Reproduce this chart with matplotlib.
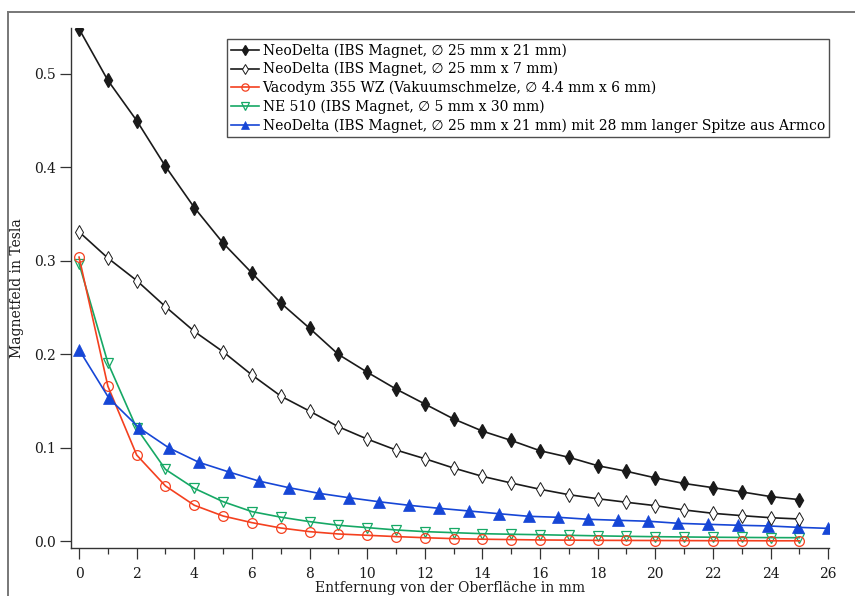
import matplotlib
matplotlib.use("Agg")
import matplotlib.pyplot as plt
from matplotlib.lines import Line2D
import numpy as np

plt.rcParams['font.family'] = ['DejaVu Serif', 'DejaVu Sans']
plt.rcParams['mathtext.fontset'] = 'dejavuserif'

# ---------------- data ----------------
x_int = list(range(26))  # 0..25 mm

neo21 = [0.548, 0.493, 0.450, 0.401, 0.357, 0.319, 0.287, 0.255, 0.228, 0.200,
         0.181, 0.163, 0.147, 0.131, 0.118, 0.108, 0.097, 0.090, 0.081, 0.075,
         0.068, 0.062, 0.0575, 0.053, 0.048, 0.0447]

neo7 = [0.331, 0.303, 0.279, 0.251, 0.2246, 0.2028, 0.178, 0.1555, 0.1394, 0.1227,
        0.1095, 0.0978, 0.0885, 0.0785, 0.0696, 0.0625, 0.0558, 0.050, 0.0457, 0.0419,
        0.0383, 0.0337, 0.0301, 0.0276, 0.0254, 0.024]

vacodym = [0.304, 0.166, 0.0924, 0.0593, 0.0387, 0.0272, 0.0201, 0.0144, 0.0105, 0.008,
           0.0066, 0.0052, 0.0040, 0.0030, 0.0024, 0.0020, 0.0016, 0.0014, 0.0012, 0.0011,
           0.0010, 0.0009, 0.0008, 0.0008, 0.0007, 0.0007]

ne510 = [0.297, 0.191, 0.121, 0.077, 0.0568, 0.0425, 0.0319, 0.026, 0.0212, 0.0173,
         0.0148, 0.0123, 0.0105, 0.0094, 0.0083, 0.0077, 0.0072, 0.0066, 0.006, 0.0055,
         0.0051, 0.0048, 0.0045, 0.0043, 0.0041, 0.0040]

x_tip = [0.0, 1.04, 2.08, 3.12, 4.16, 5.2, 6.24, 7.28, 8.32, 9.36, 10.4, 11.44, 12.48,
         13.52, 14.56, 15.6, 16.64, 17.68, 18.72, 19.76, 20.8, 21.84, 22.88, 23.92,
         24.96, 26.0]
tip = [0.205, 0.153, 0.1216, 0.100, 0.0846, 0.0743, 0.0646, 0.0575, 0.0515, 0.0468,
       0.0425, 0.0387, 0.0355, 0.0326, 0.0297, 0.0269, 0.0258, 0.0237, 0.0226, 0.0216,
       0.0194, 0.0183, 0.0173, 0.0166, 0.0151, 0.0140]

labels = [
    "NeoDelta (IBS Magnet, \u2205 25 mm x 21 mm)",
    "NeoDelta (IBS Magnet, \u2205 25 mm x 7 mm)",
    "Vacodym 355 WZ (Vakuumschmelze, \u2205 4.4 mm x 6 mm)",
    "NE 510 (IBS Magnet, \u2205 5 mm x 30 mm)",
    "NeoDelta (IBS Magnet, \u2205 25 mm x 21 mm) mit 28 mm langer Spitze aus Armco",
]
xlabel = "Entfernung von der Oberfl\u00e4che in mm"
ylabel = "Magnetfeld in Tesla"

# ---------------- figure ----------------
W, H = 855, 596
fig = plt.figure(figsize=(W / 100, H / 100), dpi=100)
ax = fig.add_axes([71 / W, 1 - 548 / H, (829 - 71) / W, (548 - 28) / H])

black = '#1a1a1a'
red = '#f4401f'
green = '#16a865'
blue = '#1646d6'

ax.plot(x_int, neo21, color=black, lw=1.2, marker='d', ms=7, mfc=black, mec=black,
        mew=1.0, label=labels[0], zorder=5)
ax.plot(x_int, neo7, color=black, lw=1.2, marker='d', ms=7, mfc='white', mec=black,
        mew=0.7, label=labels[1], zorder=5)
ax.plot(x_int, vacodym, color=red, lw=1.2, marker='o', ms=7, mfc='none', mec=red,
        mew=0.9, label=labels[2], zorder=4)
ax.plot(x_int, ne510, color=green, lw=1.2, marker='v', ms=7, mfc='none', mec=green,
        mew=0.9, label=labels[3], zorder=3)
ax.plot(x_tip, tip, color=blue, lw=1.2, marker='^', ms=8, mfc=blue, mec=blue,
        mew=0.5, label=labels[4], zorder=4)

ax.set_xlim(-0.28, 26.03)
ax.set_ylim(-0.007, 0.549)

ax.set_xticks(np.arange(0, 27, 2))
ax.set_xticks(np.arange(1, 26, 2), minor=True)
ax.set_yticks([0.0, 0.1, 0.2, 0.3, 0.4, 0.5])
ax.set_yticklabels(["0.0", "0.1", "0.2", "0.3", "0.4", "0.5"])

for s in ['top', 'right']:
    ax.spines[s].set_visible(False)
for s in ['left', 'bottom']:
    ax.spines[s].set_color('#333333')
    ax.spines[s].set_linewidth(1.0)

ax.tick_params(axis='both', which='major', direction='out', length=8, width=0.9,
               color='#333333', labelsize=10, labelcolor='#1a1a1a')
ax.tick_params(axis='x', which='major', pad=6)
ax.tick_params(axis='y', which='major', pad=3)
ax.tick_params(axis='x', which='minor', direction='out', length=4, width=0.9, color='#333333')

ax.set_xlabel(xlabel, fontsize=10, labelpad=0, color='#1a1a1a')
ax.set_ylabel(ylabel, fontsize=10, labelpad=7, color='#1a1a1a')

leg = ax.legend(loc='upper right', bbox_to_anchor=(829 / W, 1 - 39 / H),
                bbox_transform=fig.transFigure, borderaxespad=0, fontsize=10,
                frameon=True, fancybox=False, shadow=False, handlelength=2.0,
                handletextpad=0.25, labelspacing=0.32, borderpad=0.3,
                markerscale=0.75)
leg.get_frame().set_edgecolor('#222222')
leg.get_frame().set_linewidth(1.0)

# outer frame (partially visible, cropped)
fig.add_artist(Line2D([8 / W, 8 / W], [0, 1 - 12 / H], transform=fig.transFigure,
                      color='#777777', lw=1.4))
fig.add_artist(Line2D([8 / W, 1], [1 - 12 / H, 1 - 12 / H], transform=fig.transFigure,
                      color='#777777', lw=1.4))

fig.savefig("out.png", dpi=100)
